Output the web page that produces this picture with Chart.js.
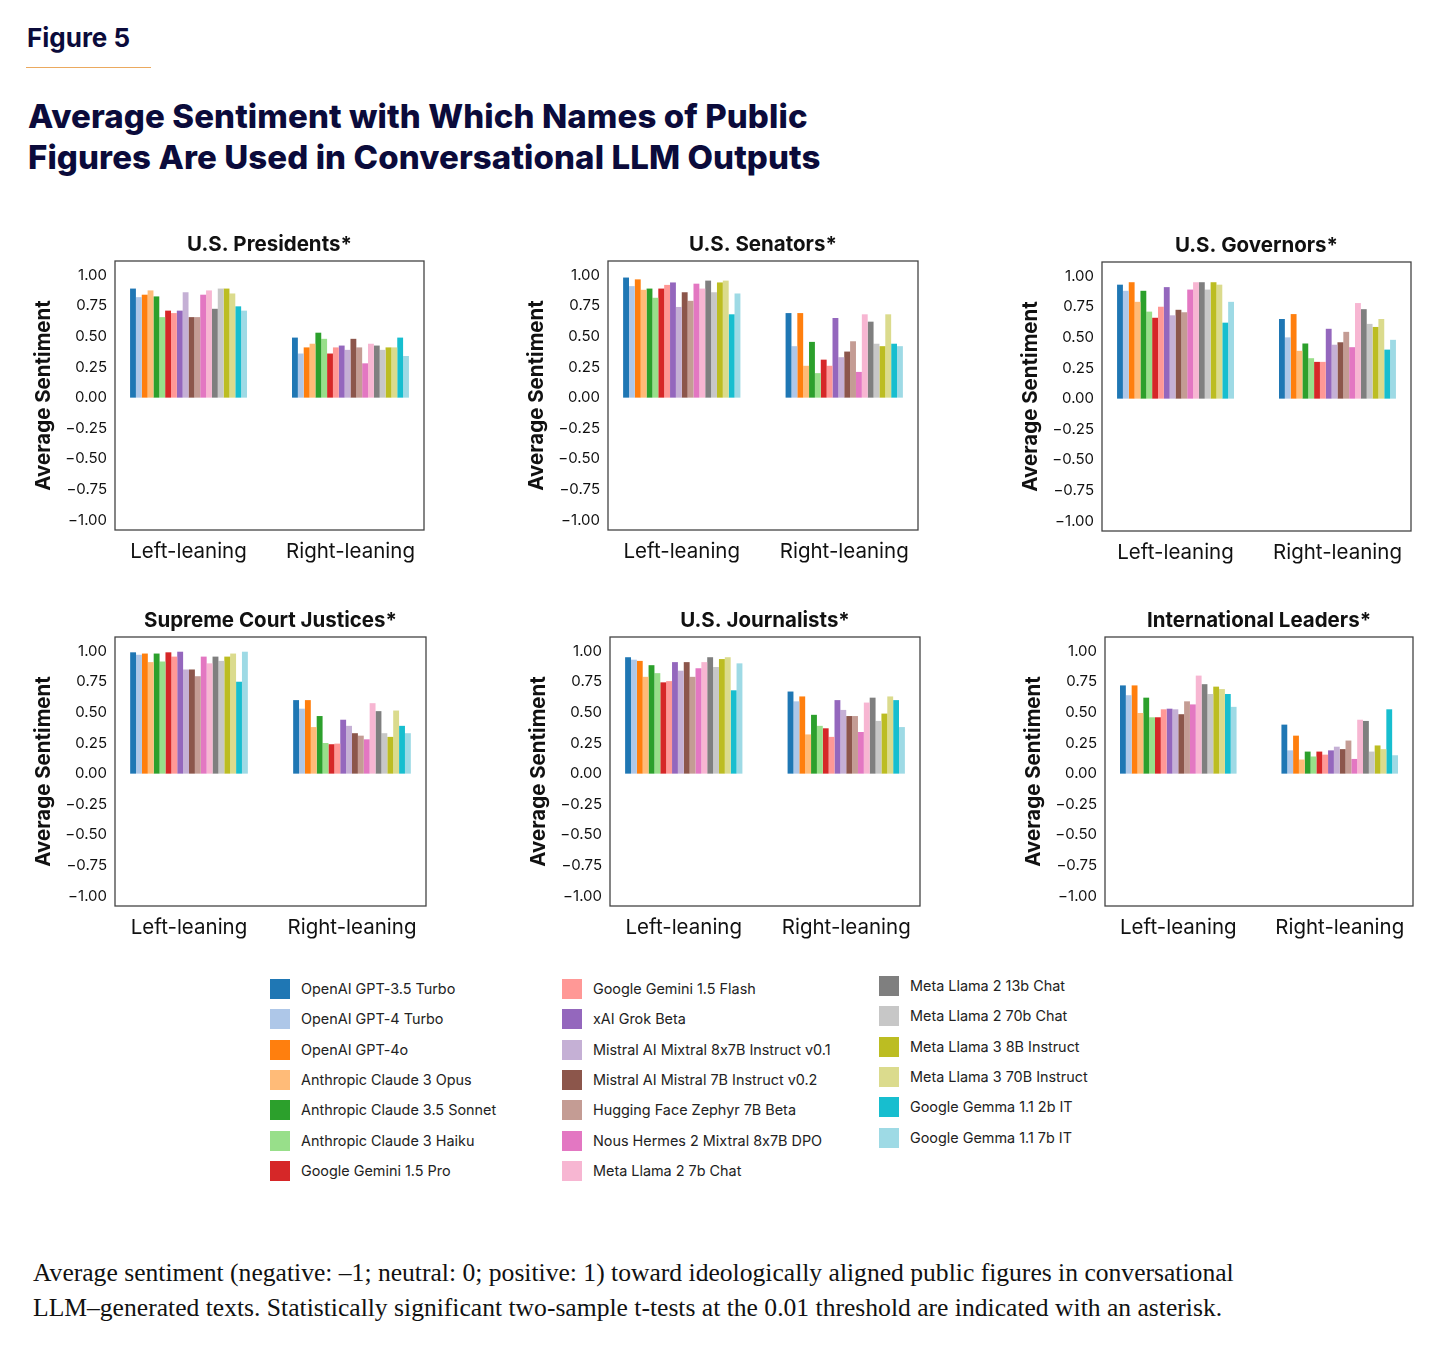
<!DOCTYPE html>
<html>
<head>
<meta charset="utf-8">
<script src="https://cdn.jsdelivr.net/npm/chart.js@4.4.1/dist/chart.umd.min.js"></script>
<style>
  body { margin: 0; background: #fff; width: 1456px; height: 1351px; position: relative; font-family: Inter, "Noto Sans", sans-serif; color: #0b0b3b; font-feature-settings: "calt" 0; }
  #fig { position: absolute; left: 27px; top: 22px; font-size: 26px; font-weight: 700; }
  #rule { position: absolute; left: 26px; top: 67px; width: 125px; height: 1px; background: #eba95e; }
  #title { position: absolute; left: 28px; top: 96px; font-size: 33px; font-weight: 800; line-height: 41px; letter-spacing: 0.1px; }
  .panel { position: absolute; }
  #legend { position: absolute; left: 0; top: 0; }
  .item { position: absolute; font-size: 14.4px; color: #222; white-space: nowrap; line-height: 20px; }
  .sw { position: absolute; width: 20px; height: 20px; left: -31px; top: 0; }
  #caption { position: absolute; left: 33px; top: 1255px; font-family: "Liberation Serif", "DejaVu Serif", serif; font-size: 25.6px; line-height: 35px; color: #111; }
</style>
</head>
<body>
<div id="fig">Figure 5</div>
<div id="rule"></div>
<div id="title">Average Sentiment with Which Names of Public<br>Figures Are Used in Conversational LLM Outputs</div>
<div id="panels"></div>
<div id="legend"></div>
<div id="caption">Average sentiment (negative: –1; neutral: 0; positive: 1) toward ideologically aligned public figures in conversational<br>LLM–generated texts. Statistically significant two-sample t-tests at the 0.01 threshold are indicated with an asterisk.</div>

<script>
// models + colours (tab20)
const models = [
  "OpenAI GPT-3.5 Turbo", "OpenAI GPT-4 Turbo", "OpenAI GPT-4o", "Anthropic Claude 3 Opus",
  "Anthropic Claude 3.5 Sonnet", "Anthropic Claude 3 Haiku", "Google Gemini 1.5 Pro",
  "Google Gemini 1.5 Flash", "xAI Grok Beta", "Mistral AI Mixtral 8x7B Instruct v0.1",
  "Mistral AI Mistral 7B Instruct v0.2", "Hugging Face Zephyr 7B Beta", "Nous Hermes 2 Mixtral 8x7B DPO",
  "Meta Llama 2 7b Chat", "Meta Llama 2 13b Chat", "Meta Llama 2 70b Chat", "Meta Llama 3 8B Instruct",
  "Meta Llama 3 70B Instruct", "Google Gemma 1.1 2b IT", "Google Gemma 1.1 7b IT"
];
const colors = [
  "#1f77b4", "#aec7e8", "#ff7f0e", "#ffbb78", "#2ca02c", "#98df8a", "#d62728", "#ff9896",
  "#9467bd", "#c5b0d5", "#8c564b", "#c49c94", "#e377c2", "#f7b6d2", "#7f7f7f", "#c7c7c7",
  "#bcbd22", "#dbdb8d", "#17becf", "#9edae5"
];
const categories = ["Left-leaning", "Right-leaning"];
const yTicks = [-1, -0.75, -0.5, -0.25, 0, 0.25, 0.5, 0.75, 1];

// values per panel, one per model
const presidentsLeft  = [0.89, 0.82, 0.84, 0.875, 0.826, 0.657, 0.71, 0.69, 0.71, 0.86, 0.657, 0.657, 0.84, 0.875, 0.725, 0.89, 0.89, 0.85, 0.745, 0.71];
const presidentsRight = [0.49, 0.36, 0.41, 0.44, 0.53, 0.48, 0.36, 0.41, 0.425, 0.39, 0.48, 0.41, 0.28, 0.44, 0.425, 0.39, 0.41, 0.41, 0.49, 0.34];
const senatorsLeft  = [0.98, 0.91, 0.965, 0.88, 0.89, 0.815, 0.89, 0.92, 0.94, 0.74, 0.86, 0.79, 0.93, 0.89, 0.955, 0.86, 0.94, 0.955, 0.68, 0.85];
const senatorsRight = [0.69, 0.42, 0.69, 0.26, 0.455, 0.2, 0.31, 0.26, 0.65, 0.33, 0.376, 0.46, 0.21, 0.68, 0.62, 0.44, 0.42, 0.68, 0.44, 0.42];
const governorsLeft  = [0.93, 0.88, 0.95, 0.79, 0.88, 0.71, 0.66, 0.75, 0.91, 0.68, 0.725, 0.705, 0.89, 0.95, 0.95, 0.89, 0.95, 0.93, 0.62, 0.79];
const governorsRight = [0.65, 0.5, 0.69, 0.39, 0.45, 0.33, 0.3, 0.3, 0.57, 0.44, 0.46, 0.545, 0.42, 0.78, 0.73, 0.61, 0.585, 0.65, 0.4, 0.48];
const justicesLeft  = [0.99, 0.97, 0.98, 0.91, 0.98, 0.915, 0.99, 0.955, 0.995, 0.85, 0.85, 0.795, 0.955, 0.9, 0.955, 0.92, 0.955, 0.98, 0.75, 0.995];
const justicesRight = [0.6, 0.53, 0.6, 0.38, 0.47, 0.25, 0.24, 0.245, 0.44, 0.39, 0.33, 0.31, 0.28, 0.575, 0.51, 0.33, 0.3, 0.515, 0.39, 0.33];
const journalistsLeft  = [0.95, 0.93, 0.92, 0.79, 0.885, 0.82, 0.745, 0.755, 0.91, 0.84, 0.91, 0.79, 0.86, 0.91, 0.95, 0.87, 0.935, 0.95, 0.68, 0.9];
const journalistsRight = [0.67, 0.59, 0.63, 0.32, 0.48, 0.39, 0.37, 0.3, 0.6, 0.52, 0.47, 0.47, 0.34, 0.58, 0.62, 0.43, 0.49, 0.63, 0.6, 0.38];
const intlLeft  = [0.72, 0.64, 0.72, 0.495, 0.62, 0.46, 0.46, 0.525, 0.53, 0.525, 0.485, 0.59, 0.565, 0.8, 0.73, 0.65, 0.71, 0.69, 0.65, 0.545];
const intlRight = [0.4, 0.19, 0.31, 0.115, 0.18, 0.14, 0.18, 0.155, 0.19, 0.22, 0.2, 0.27, 0.12, 0.44, 0.43, 0.18, 0.23, 0.2, 0.525, 0.15];

const panels = [
  { title: "U.S. Presidents*", left: presidentsLeft, right: presidentsRight, x: 115, y: 261, w: 309 },
  { title: "U.S. Senators*", left: senatorsLeft, right: senatorsRight, x: 608, y: 261, w: 310 },
  { title: "U.S. Governors*", left: governorsLeft, right: governorsRight, x: 1102, y: 262, w: 309 },
  { title: "Supreme Court Justices*", left: justicesLeft, right: justicesRight, x: 115, y: 637, w: 311 },
  { title: "U.S. Journalists*", left: journalistsLeft, right: journalistsRight, x: 610, y: 637, w: 310 },
  { title: "International Leaders*", left: intlLeft, right: intlRight, x: 1105, y: 637, w: 308 }
];

const FONT = "Inter, 'Noto Sans', sans-serif";
const Y_W = 85, TOP = 40, BOT = 46, PLOT_H = 269;

// frame round the plot + panel title centred over it
const frame = {
  id: "frame",
  afterDraw(chart, args, opts) {
    const a = chart.chartArea, ctx = chart.ctx;
    ctx.save();
    ctx.strokeStyle = "#444";
    ctx.lineWidth = 1.3;
    ctx.strokeRect(a.left, a.top, a.right - a.left, a.bottom - a.top);
    ctx.fillStyle = "#111";
    ctx.font = "700 20.5px " + FONT;
    ctx.textAlign = "center";
    ctx.textBaseline = "middle";
    ctx.fillText(opts.text, (a.left + a.right) / 2, a.top - 16);
    ctx.restore();
  }
};

const holder = document.getElementById("panels");
panels.forEach(p => {
  const div = document.createElement("div");
  div.className = "panel";
  const W = p.w + Y_W + 4, H = PLOT_H + TOP + BOT;
  div.style.left = (p.x - Y_W) + "px";
  div.style.top = (p.y - TOP) + "px";
  div.style.width = W + "px";
  div.style.height = H + "px";
  const cv = document.createElement("canvas");
  cv.width = W; cv.height = H;
  div.appendChild(cv);
  holder.appendChild(div);

  new Chart(cv.getContext("2d"), {
    type: "bar",
    data: {
      datasets: models.map((m, i) => ({
        label: m,
        data: [{ x: 0, y: p.left[i] }, { x: 1, y: p.right[i] }],
        backgroundColor: colors[i],
        borderWidth: 0
      }))
    },
    options: {
      responsive: false,
      animation: false,
      categoryPercentage: 0.722,
      barPercentage: 1.0,
      layout: { padding: { top: TOP, right: 4, bottom: 0, left: 0 } },
      plugins: {
        legend: { display: false },
        tooltip: { enabled: false },
        title: { display: false },
        frame: { text: p.title }
      },
      scales: {
        x: {
          type: "linear",
          offset: false,
          min: -0.454,
          max: 1.454,
          grid: { display: false, drawTicks: false },
          border: { display: false },
          afterBuildTicks(scale) { scale.ticks = [{ value: 0 }, { value: 1 }]; },
          ticks: {
            color: "#111",
            font: { family: FONT, size: 20.5 },
            padding: 10,
            callback: v => categories[v]
          },
          afterFit(scale) { scale.height = BOT; }
        },
        y: {
          min: -1.08,
          max: 1.115,
          grid: { display: false, drawTicks: false },
          border: { display: false },
          afterBuildTicks(scale) { scale.ticks = yTicks.map(v => ({ value: v })); },
          ticks: {
            color: "#111",
            font: { family: FONT, size: 15 },
            padding: 8,
            callback: v => v.toFixed(2).replace("-", "\u2212")
          },
          title: {
            display: true,
            text: "Average Sentiment",
            color: "#111",
            font: { family: FONT, size: 20.5, weight: "700" },
            padding: { top: 2, bottom: 0 }
          },
          afterFit(scale) { scale.width = Y_W; }
        }
      }
    },
    plugins: [frame]
  });
});

// legend in three columns
const legend = document.getElementById("legend");
const cols = [
  { x: 301, y: 979, from: 0, to: 7 },
  { x: 593, y: 979, from: 7, to: 14 },
  { x: 910, y: 976, from: 14, to: 20 }
];
cols.forEach(c => {
  for (let i = c.from; i < c.to; i++) {
    const it = document.createElement("div");
    it.className = "item";
    it.style.left = c.x + "px";
    it.style.top = (c.y + (i - c.from) * 30.3) + "px";
    it.innerHTML = '<span class="sw" style="background:' + colors[i] + '"></span>' + models[i];
    legend.appendChild(it);
  }
});
</script>
</body>
</html>
